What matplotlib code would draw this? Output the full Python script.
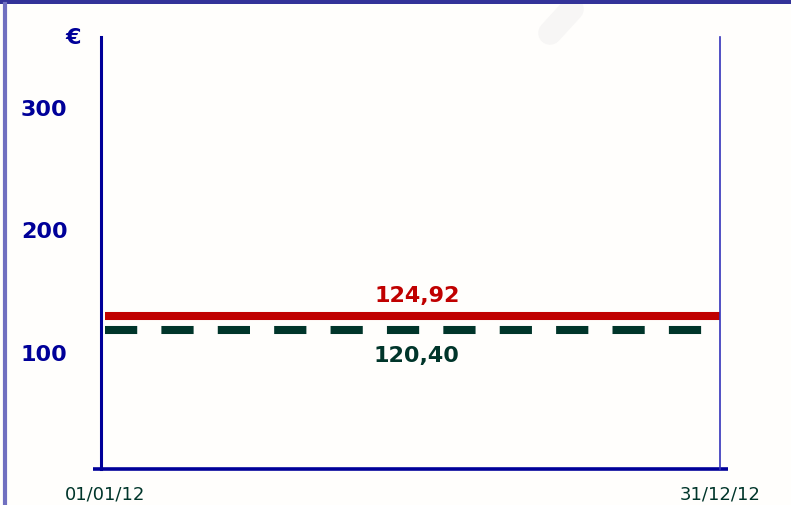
import matplotlib.pyplot as plt
from matplotlib.lines import Line2D
from matplotlib.transforms import ScaledTranslation

# data
dates = ['01/01/12', '31/12/12']
date_pos = [0, 365]
y_ticks = [100, 200, 300]
price_red = 124.92
price_green = 120.40
red_label = '124,92'
green_label = '120,40'

W, H = 791, 506
fig = plt.figure(figsize=(W / 100, H / 100), dpi=100)
fig.patch.set_facecolor('#fffefc')

navy = '#000099'
green = '#00352a'
red = '#c00000'
font = 'DejaVu Sans'

# frame decorations (top bar, left border, faint watermark)
fig.add_artist(plt.Rectangle((0, 1 - 5 / H), 1, 5 / H, transform=fig.transFigure,
                             color='#333399', lw=0))
fig.add_artist(Line2D([5 / W, 5 / W], [0, 1 - 5 / H], transform=fig.transFigure,
                      color='#7070c0', lw=3))
fig.add_artist(Line2D([572 / W, 550 / W], [1 - 10 / H, 1 - 34 / H], transform=fig.transFigure,
                      color='#f7f6f5', lw=17, solid_capstyle='round', zorder=0))

left, right, top, bottom = 101, 720, 38, 470
ax = fig.add_axes([left / W, 1 - bottom / H, (right - left) / W, (bottom - top) / H])
ax.set_facecolor('none')

# the two lines are drawn slightly apart so both stay visible, as in the original
up = ax.transData + ScaledTranslation(0, 3.6 / 72, fig.dpi_scale_trans)
down = ax.transData + ScaledTranslation(0, -2 / 72, fig.dpi_scale_trans)
ax.plot(date_pos, [price_green, price_green], color=green, lw=5.8,
        dashes=(4.0, 3.0), dash_capstyle='butt', transform=down)
ax.plot(date_pos, [price_red, price_red], color=red, lw=5.8, solid_capstyle='butt',
        transform=up)

ax.set_xlim(-2.4, 365)
ax.set_ylim(4.5, 357)

for s in ['top', 'bottom']:
    ax.spines[s].set_visible(False)
ax.spines['left'].set_color(navy)
ax.spines['left'].set_linewidth(2.2)
ax.spines['right'].set_color('#3333bb')
ax.spines['right'].set_linewidth(1.2)

# bottom axis line sticks out on both sides
ax.plot([-8 / 619, 627 / 619], [0, 0], transform=ax.transAxes, color=navy,
        lw=2.6, clip_on=False, solid_capstyle='butt')

ax.set_yticks(y_ticks)
ax.set_yticklabels([str(v) for v in y_ticks], fontsize=16, fontweight='bold',
                   color=navy, family=font)
ax.set_xticks(date_pos)
ax.set_xticklabels(dates, fontsize=13, color=green, family=font)
ax.tick_params(axis='y', length=0, pad=24)
ax.tick_params(axis='x', length=0, pad=11)

ax.text(-0.045, 1.0, '€', transform=ax.transAxes, fontsize=16, fontweight='bold',
        color=navy, family=font, ha='center', va='center')

mid = 185
ax.annotate(red_label, (mid, price_red), xytext=(0, 19), textcoords='offset points',
            ha='center', va='center', fontsize=16, fontweight='bold', color=red,
            family=font)
ax.annotate(green_label, (mid, price_green), xytext=(0, -20.5), textcoords='offset points',
            ha='center', va='center', fontsize=16, fontweight='bold', color=green,
            family=font)

fig.savefig('out.png', dpi=100, facecolor=fig.get_facecolor())
